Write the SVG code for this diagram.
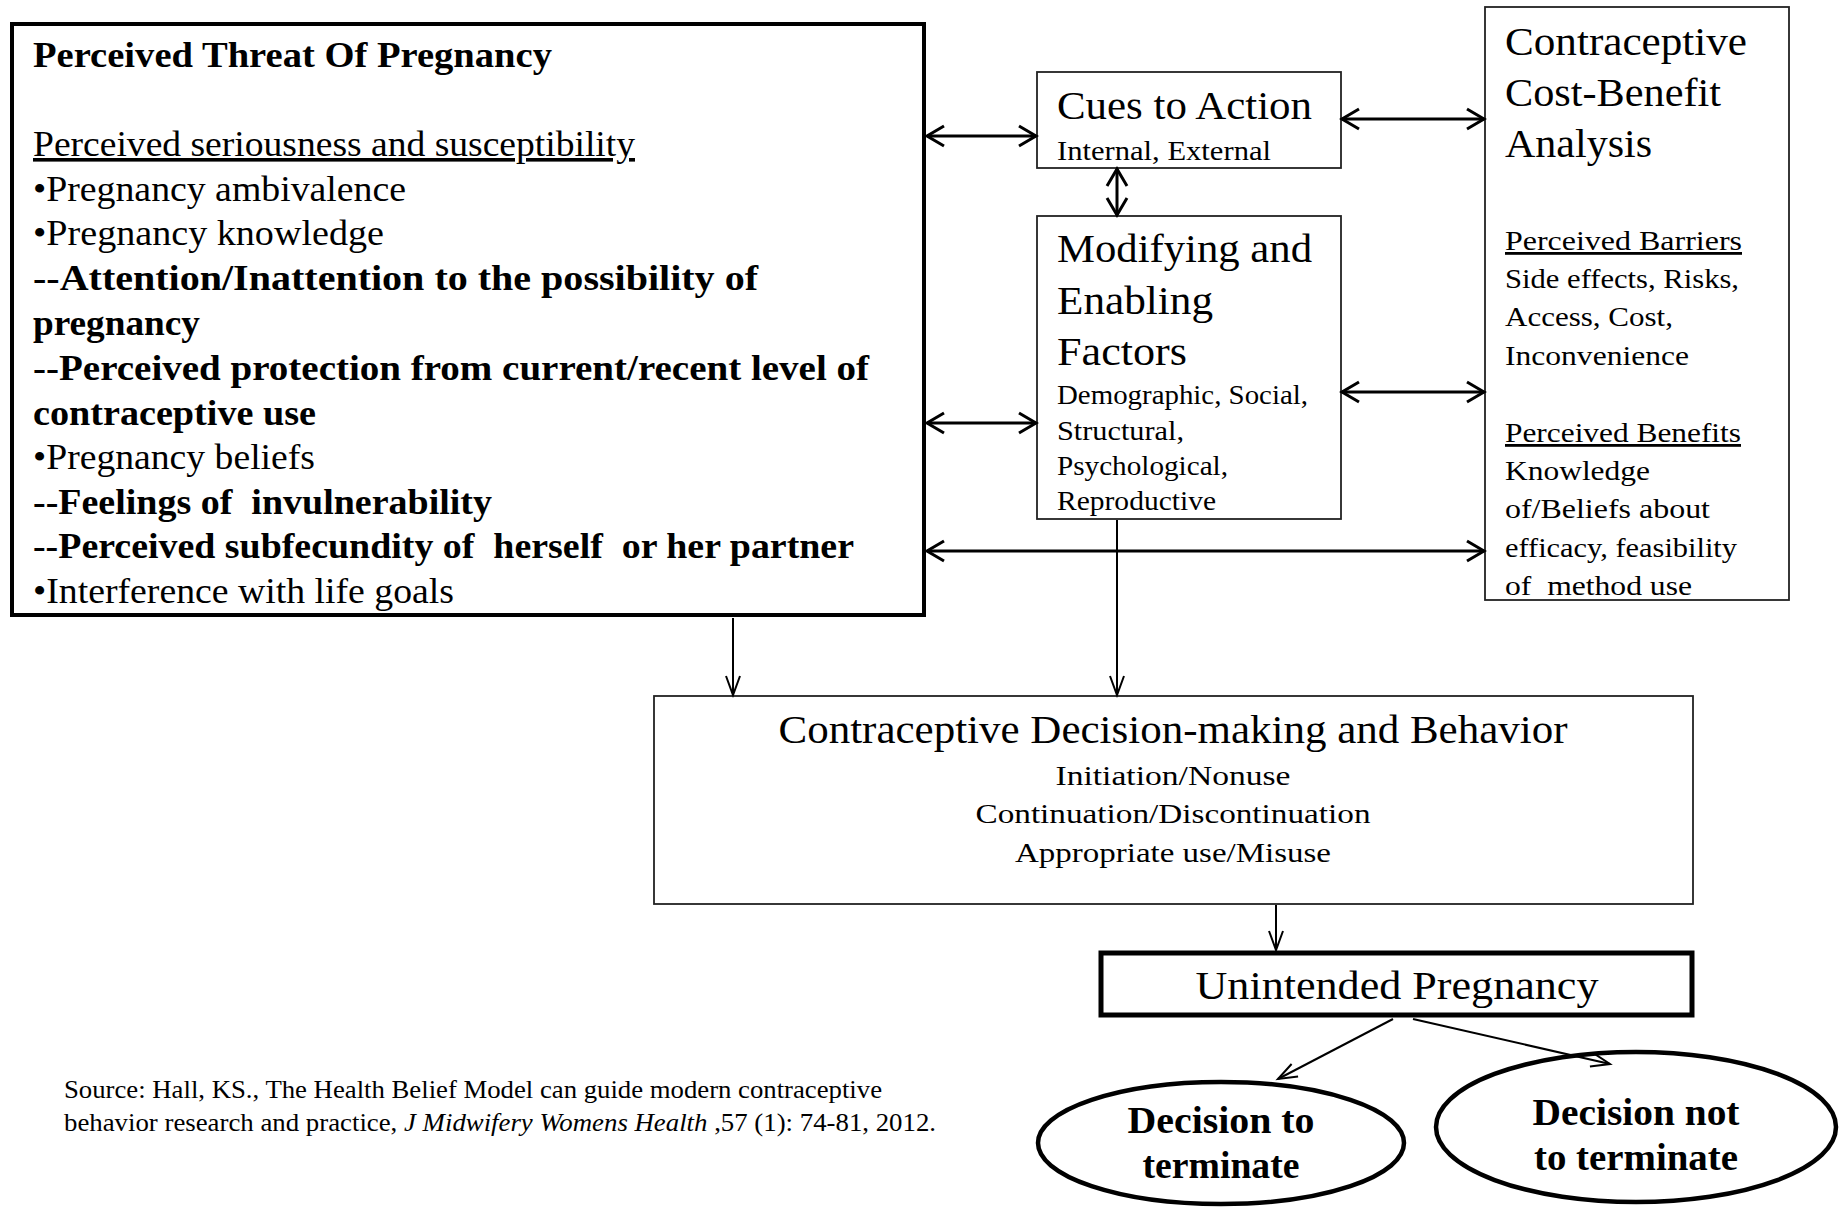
<svg xmlns="http://www.w3.org/2000/svg" width="1847" height="1207" viewBox="0 0 1847 1207">
<style>
text{font-family:"Liberation Serif","Times New Roman",serif;fill:#000;}
.b{font-weight:bold;}
.m{font-size:36px;}
.l{font-size:40px;}
.s{font-size:28px;}
.e{font-size:38px;font-weight:bold;}
.u{text-decoration:underline;}
.c{text-anchor:middle;}
.thin{fill:#fff;stroke:#222;stroke-width:1.8;}
.conn{fill:none;stroke:#000;}
.w3{stroke-width:3;}
.w2{stroke-width:2;}
.src{font-size:25px;}
</style>
<defs>
<marker id="ah" markerUnits="userSpaceOnUse" orient="auto-start-reverse" markerWidth="22" markerHeight="26" refX="19" refY="13" viewBox="0 0 22 26">
<path d="M2,3 L19,13 L2,23" fill="none" stroke="#000" stroke-width="3"/>
</marker>
<marker id="ahs" markerUnits="userSpaceOnUse" orient="auto-start-reverse" markerWidth="24" markerHeight="20" refX="21" refY="10" viewBox="0 0 24 20">
<path d="M2,3 L21,10 L2,17" fill="none" stroke="#000" stroke-width="2"/>
</marker>
</defs>
<rect width="1847" height="1207" fill="#fff"/>

<g id="threat">
<rect x="12" y="24" width="912" height="591" fill="#fff" stroke="#000" stroke-width="4"/>
<text class="m b" x="33" y="67" textLength="519" lengthAdjust="spacingAndGlyphs">Perceived Threat Of Pregnancy</text>
<text class="m u" x="33" y="156" textLength="602" lengthAdjust="spacingAndGlyphs">Perceived seriousness and susceptibility</text>
<text class="m" x="33" y="201" textLength="373" lengthAdjust="spacingAndGlyphs">•Pregnancy ambivalence</text>
<text class="m" x="33" y="245" textLength="351" lengthAdjust="spacingAndGlyphs">•Pregnancy knowledge</text>
<text class="m b" x="33" y="290" textLength="725" lengthAdjust="spacingAndGlyphs">--Attention/Inattention to the possibility of</text>
<text class="m b" x="33" y="335" textLength="167" lengthAdjust="spacingAndGlyphs">pregnancy</text>
<text class="m b" x="33" y="380" textLength="836" lengthAdjust="spacingAndGlyphs">--Perceived protection from current/recent level of</text>
<text class="m b" x="33" y="425" textLength="283" lengthAdjust="spacingAndGlyphs">contraceptive use</text>
<text class="m" x="33" y="469" textLength="282" lengthAdjust="spacingAndGlyphs">•Pregnancy beliefs</text>
<text class="m b" x="33" y="514" textLength="459" lengthAdjust="spacingAndGlyphs" xml:space="preserve">--Feelings of  invulnerability</text>
<text class="m b" x="33" y="558" textLength="821" lengthAdjust="spacingAndGlyphs" xml:space="preserve">--Perceived subfecundity of  herself  or her partner</text>
<text class="m" x="33" y="603" textLength="421" lengthAdjust="spacingAndGlyphs">•Interference with life goals</text>
</g>

<g id="cues">
<rect class="thin" x="1037" y="72" width="304" height="96"/>
<text class="l" x="1057" y="119" textLength="255" lengthAdjust="spacingAndGlyphs">Cues to Action</text>
<text class="s" x="1057" y="160" textLength="214" lengthAdjust="spacingAndGlyphs">Internal, External</text>
</g>

<g id="modifying">
<rect class="thin" x="1037" y="216" width="304" height="303"/>
<text class="l" x="1057" y="262" textLength="255" lengthAdjust="spacingAndGlyphs">Modifying and</text>
<text class="l" x="1057" y="314" textLength="156" lengthAdjust="spacingAndGlyphs">Enabling</text>
<text class="l" x="1057" y="365" textLength="130" lengthAdjust="spacingAndGlyphs">Factors</text>
<text class="s" x="1057" y="404" textLength="251" lengthAdjust="spacingAndGlyphs">Demographic, Social,</text>
<text class="s" x="1057" y="440" textLength="127" lengthAdjust="spacingAndGlyphs">Structural,</text>
<text class="s" x="1057" y="475" textLength="171" lengthAdjust="spacingAndGlyphs">Psychological,</text>
<text class="s" x="1057" y="510" textLength="159" lengthAdjust="spacingAndGlyphs">Reproductive</text>
</g>

<g id="costbenefit">
<rect class="thin" x="1485" y="7" width="304" height="593"/>
<text class="l" x="1505" y="55" textLength="242" lengthAdjust="spacingAndGlyphs">Contraceptive</text>
<text class="l" x="1505" y="106" textLength="216" lengthAdjust="spacingAndGlyphs">Cost-Benefit</text>
<text class="l" x="1505" y="157" textLength="147" lengthAdjust="spacingAndGlyphs">Analysis</text>
<text class="s u" x="1505" y="250" textLength="237" lengthAdjust="spacingAndGlyphs">Perceived Barriers</text>
<text class="s" x="1505" y="288" textLength="234" lengthAdjust="spacingAndGlyphs">Side effects, Risks,</text>
<text class="s" x="1505" y="326" textLength="168" lengthAdjust="spacingAndGlyphs">Access, Cost,</text>
<text class="s" x="1505" y="365" textLength="184" lengthAdjust="spacingAndGlyphs">Inconvenience</text>
<text class="s u" x="1505" y="442" textLength="236" lengthAdjust="spacingAndGlyphs">Perceived Benefits</text>
<text class="s" x="1505" y="480" textLength="145" lengthAdjust="spacingAndGlyphs">Knowledge</text>
<text class="s" x="1505" y="518" textLength="205" lengthAdjust="spacingAndGlyphs">of/Beliefs about</text>
<text class="s" x="1505" y="557" textLength="232" lengthAdjust="spacingAndGlyphs">efficacy, feasibility</text>
<text class="s" x="1505" y="595" textLength="187" lengthAdjust="spacingAndGlyphs" xml:space="preserve">of  method use</text>
</g>

<g id="decision">
<rect class="thin" x="654" y="696" width="1039" height="208"/>
<text class="l c" x="1173" y="743" textLength="789" lengthAdjust="spacingAndGlyphs">Contraceptive Decision-making and Behavior</text>
<text class="s c" x="1173" y="785" textLength="235" lengthAdjust="spacingAndGlyphs">Initiation/Nonuse</text>
<text class="s c" x="1173" y="823" textLength="395" lengthAdjust="spacingAndGlyphs">Continuation/Discontinuation</text>
<text class="s c" x="1173" y="862" textLength="316" lengthAdjust="spacingAndGlyphs">Appropriate use/Misuse</text>
</g>

<g id="unintended">
<rect x="1101" y="953" width="591" height="62" fill="#fff" stroke="#000" stroke-width="5"/>
<text class="l c" x="1397" y="999" textLength="403" lengthAdjust="spacingAndGlyphs">Unintended Pregnancy</text>
</g>

<g id="terminate">
<ellipse cx="1221" cy="1143" rx="183" ry="61" fill="#fff" stroke="#000" stroke-width="4.5"/>
<text class="e c" x="1221" y="1133" textLength="187" lengthAdjust="spacingAndGlyphs">Decision to</text>
<text class="e c" x="1221" y="1178" textLength="157" lengthAdjust="spacingAndGlyphs">terminate</text>
</g>

<g id="notterminate">
<ellipse cx="1636" cy="1127" rx="200" ry="75" fill="#fff" stroke="#000" stroke-width="4.5"/>
<text class="e c" x="1636" y="1125" textLength="207" lengthAdjust="spacingAndGlyphs">Decision not</text>
<text class="e c" x="1636" y="1170" textLength="204" lengthAdjust="spacingAndGlyphs">to terminate</text>
</g>

<g id="source">
<text class="src" x="64" y="1098" textLength="818" lengthAdjust="spacingAndGlyphs">Source: Hall, KS., The Health Belief Model can guide modern contraceptive</text>
<text class="src" x="64" y="1131" textLength="872" lengthAdjust="spacingAndGlyphs">behavior research and practice, <tspan font-style="italic">J Midwifery Womens Health</tspan> ,57 (1): 74-81, 2012.</text>
</g>

<g id="connectors">
<line class="conn w3" x1="927" y1="136" x2="1036" y2="136" marker-start="url(#ah)" marker-end="url(#ah)"/>
<line class="conn w3" x1="1342" y1="119" x2="1484" y2="119" marker-start="url(#ah)" marker-end="url(#ah)"/>
<line class="conn w3" x1="1117" y1="169" x2="1117" y2="215" marker-start="url(#ah)" marker-end="url(#ah)"/>
<line class="conn w3" x1="927" y1="423" x2="1036" y2="423" marker-start="url(#ah)" marker-end="url(#ah)"/>
<line class="conn w3" x1="1342" y1="392" x2="1484" y2="392" marker-start="url(#ah)" marker-end="url(#ah)"/>
<line class="conn w3" x1="927" y1="551" x2="1484" y2="551" marker-start="url(#ah)" marker-end="url(#ah)"/>
<line class="conn w2" x1="1117" y1="520" x2="1117" y2="695" marker-end="url(#ahs)"/>
<line class="conn w2" x1="733" y1="618" x2="733" y2="695" marker-end="url(#ahs)"/>
<line class="conn w2" x1="1276" y1="905" x2="1276" y2="950" marker-end="url(#ahs)"/>
<line class="conn w2" x1="1393" y1="1019" x2="1278" y2="1079" marker-end="url(#ahs)"/>
<line class="conn w2" x1="1413" y1="1019" x2="1610" y2="1064" marker-end="url(#ahs)"/>
</g>
</svg>
